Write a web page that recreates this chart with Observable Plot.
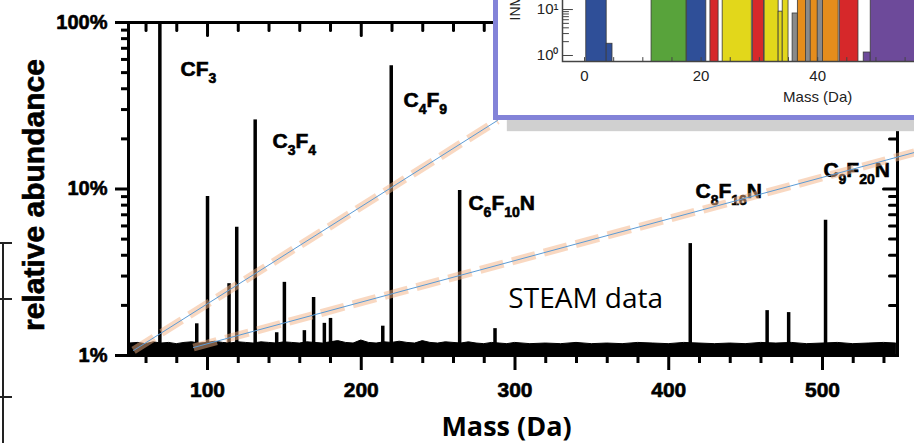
<!DOCTYPE html>
<html>
<head>
<meta charset="utf-8">
<script src="https://cdn.jsdelivr.net/npm/d3@7"></script>
<script src="https://cdn.jsdelivr.net/npm/@observablehq/plot@0.6"></script>
<style>
html, body { margin: 0; padding: 0; background: #fff; overflow: hidden; }
#stage { position: relative; width: 914px; height: 443px; overflow: hidden; background: #fff; }
#stage > svg.main { position: absolute; left: 0; top: 0; }
.tbl { position: absolute; background: #222; }
#inset { position: absolute; left: 493px; top: -10px; width: 440px; height: 120px;
  border: 5px solid #8383d8; background: #fff; box-shadow: 14px 11px 1px #d0d0d0; }
#inset > svg { position: absolute; left: 0; top: 0; }
svg.main g[aria-label$="tick label"] text,
svg.main text.heavy { paint-order: stroke; stroke: #000; stroke-width: 0.6px; }
</style>
</head>
<body>
<div id="stage">
  <div class="tbl" style="left:2px;top:242px;width:2px;height:201px"></div>
  <div class="tbl" style="left:0;top:242px;width:12px;height:2px"></div>
  <div class="tbl" style="left:0;top:298px;width:12px;height:2px"></div>
  <div class="tbl" style="left:0;top:396px;width:12px;height:2px"></div>
</div>
<script>
// ---------- main spectrum data ----------
const peakMass = [69, 93, 100, 114, 119, 131, 145, 150, 163, 169, 176, 180, 214, 219.5, 264, 287, 414, 464, 478, 502];
const peakPct  = [100, 1.55, 9.0, 2.7, 5.9, 26, 1.37, 2.75, 1.41, 2.23, 1.56, 1.67, 1.5, 55, 9.8, 1.45, 4.7, 1.86, 1.81, 6.5];

const noiseMass = [49,55,60,65,70,75,80,85,90,95,100,105,110,115,120,125,130,135,140,145,150,155,160,165,170,175,180,185,190,195,200,205,210,215,220,225,230,235,240,245,250,255,260,265,270,275,280,285,290,295,300,310,320,330,340,350,360,370,380,390,400,410,420,430,440,450,460,470,480,490,500,510,520,530,540,548];
const noisePct  = [1.18,1.19,1.17,1.2,1.18,1.19,1.17,1.19,1.2,1.18,1.19,1.21,1.19,1.18,1.2,1.19,1.18,1.2,1.19,1.18,1.2,1.19,1.18,1.2,1.19,1.18,1.2,1.22,1.19,1.18,1.23,1.19,1.18,1.2,1.19,1.21,1.19,1.18,1.22,1.19,1.18,1.2,1.19,1.18,1.2,1.18,1.17,1.19,1.18,1.17,1.19,1.17,1.18,1.17,1.19,1.17,1.18,1.17,1.19,1.18,1.17,1.19,1.18,1.17,1.18,1.17,1.19,1.18,1.19,1.17,1.18,1.19,1.17,1.18,1.19,1.18];

const labelNames = ["CF3", "C3F4", "C4F9", "C6F10N", "C8F16N", "C9F20N"];
const labelMass  = [82.4, 142.3, 227.5, 269.7, 417.4, 500.6];
const labelPct   = [47.4, 17.75, 30.9, 7.43, 8.77, 11.73];

const xMajorTicks = [100, 200, 300, 400, 500];
const xMinorTicks = [60, 80, 120, 140, 160, 180, 220, 240, 260, 280, 320, 340, 360, 380, 420, 440, 460, 480, 520, 540];
const yMajorTicks = [1, 10, 100];
const yMinorTicks = [2, 3, 4, 5, 6, 7, 8, 9, 20, 30, 40, 50, 60, 70, 80, 90];

// zoom guide lines (main chart data coordinates)
const guideId   = ["a", "a", "b", "b"];
const guideMass = [51.9, 288.6, 90.9, 559.8];
const guidePct  = [1.072, 25.8, 1.117, 16.57];

const steamText = "STEAM data";
const steamMass = 346;
const steamPct = 2.17;

// ---------- inset histogram data ----------
const binStart = [0.3, 3.8, 11.5, 17.6, 21.6, 23.7, 28.9, 30.9, 33.3, 34.0, 35.7, 36.6, 38.0, 40.0, 43.8, 47.9, 49.1];
const binEnd   = [3.8, 4.8, 17.5, 20.9, 23.0, 28.7, 30.8, 33.3, 34.0, 35.0, 36.6, 43.6, 38.8, 40.9, 47.0, 49.1, 58];
const binCount = [100, 1.8, 100, 100, 100, 100, 100, 100, 9.0, 100, 8.2, 100, 100, 100, 100, 1.16, 100];
const binGroup = ["g1","g1","g2","g1","g3","g4","g3","g4","g4","g4","g6","g5","g6","g6","g3","g7","g7"];
const groupNames  = ["g1", "g2", "g3", "g4", "g5", "g6", "g7"];
const groupColors = ["#2f4f98", "#58a33b", "#d6282a", "#e2d71b", "#e58d1c", "#8a8a8a", "#6d4a9a"];
const insetXLabels = [0, 20, 40];
const insetXTicks = [0, 5, 10, 15, 20, 25, 30, 35, 40, 45, 50, 55];
const insetYMajor = [1, 10];
const insetYMinor = [2, 3, 4, 5, 6, 7, 8, 9, 20];

// ---------- build ----------
const peaks = peakMass.map((m, i) => ({mass: m, pct: peakPct[i]}));
const noise = noiseMass.map((m, i) => ({mass: m, pct: noisePct[i]}));
const labels = labelNames.map((n, i) => ({name: n, mass: labelMass[i], pct: labelPct[i]}));
const guides = guideId.map((id, i) => ({id, mass: guideMass[i], pct: guidePct[i]}));
const bins = binStart.map((s, i) => ({x1: s, x2: binEnd[i], count: binCount[i], group: binGroup[i]}));

const tickShape = {draw(context, l) { context.moveTo(0, 0); context.lineTo(0, -l); }};
function ticksAt(values, channel, frameAnchor, rotate, length, stroke, strokeWidth) {
  return Plot.vector(values, {[channel]: d => d, frameAnchor, rotate, length, anchor: "start",
    shape: tickShape, stroke, strokeWidth});
}

const font = "'Liberation Sans', Arial, Helvetica, sans-serif";

const main = Plot.plot({
  width: 914, height: 443,
  marginLeft: 128, marginRight: 17, marginTop: 22, marginBottom: 88,
  style: {fontFamily: font, background: "transparent", overflow: "visible"},
  x: {domain: [48.6, 548.8]},
  y: {type: "log", domain: [1, 100]},
  marks: [
    Plot.areaY(noise, {x: "mass", y1: 0.98, y2: "pct", fill: "black", stroke: "black", strokeWidth: 1}),
    Plot.ruleX(peaks, {x: "mass", y1: 1, y2: "pct", stroke: "black", strokeWidth: 3.5}),
    Plot.frame({stroke: "black", strokeWidth: 3}),
    Plot.axisX({ticks: xMajorTicks, tickSize: 15, tickPadding: 12, strokeWidth: 3, fontSize: 21, fontWeight: "bold", label: null}),
    Plot.axisX({ticks: xMinorTicks, tickSize: 8, tickFormat: () => "", strokeWidth: 3, label: null}),
    Plot.axisY({ticks: yMajorTicks, tickSize: 13, tickPadding: 8, strokeWidth: 3, tickFormat: d => d + "%", fontSize: 20, fontWeight: "bold", label: null}),
    Plot.axisY({ticks: yMinorTicks, tickSize: 7, tickFormat: () => "", strokeWidth: 3, label: null}),
    ticksAt(xMajorTicks, "x", "top", 180, 13, "black", 3),
    ticksAt(xMinorTicks, "x", "top", 180, 8, "black", 3),
    ticksAt(yMajorTicks, "y", "right", -90, 14, "black", 3),
    ticksAt(yMinorTicks, "y", "right", -90, 8, "black", 3),
    Plot.text(labels, {x: "mass", y: "pct", text: "name", textAnchor: "start", lineAnchor: "bottom",
      fontSize: 21, fontWeight: "bold", fill: "black", className: "peak-label"}),
    Plot.text([steamText], {x: steamMass, y: steamPct, text: d => d, fontFamily: "'Open Sans', sans-serif",
      fontSize: 28, fill: "black"}),
    Plot.text(["relative abundance"], {frameAnchor: "left", text: d => d, rotate: -90, dx: -94, dy: 6,
      textAnchor: "middle", lineAnchor: "middle",
      fontSize: 30, fontWeight: "bold", fill: "black", className: "axis-title"}),
    Plot.text(["Mass (Da)"], {frameAnchor: "bottom", text: d => d, dx: -6.5, dy: 72,
      textAnchor: "middle", lineAnchor: "middle",
      fontFamily: "'Open Sans', sans-serif", fontSize: 27, fontWeight: "bold", fill: "black"}),
    Plot.line(guides, {x: "mass", y: "pct", z: "id", stroke: "#f4b183", strokeOpacity: 0.5, strokeWidth: 8, strokeDasharray: "24,9", strokeLinecap: "butt"}),
    Plot.line(guides, {x: "mass", y: "pct", z: "id", stroke: "#5b9bd5", strokeWidth: 1})
  ]
});
main.classList.add("main");

// subscripts in chemical formulas; heavier strokes for bold labels
function heavy(sel) { main.querySelectorAll(sel).forEach(t => t.classList.add("heavy")); }
heavy(".peak-label text, g.peak-label text");
heavy(".axis-title text, g.axis-title text");
main.querySelectorAll(".peak-label text").forEach(t => {
  const s = t.textContent;
  t.textContent = "";
  let shifted = false;
  s.split(/(\d+)/).filter(Boolean).forEach(part => {
    const ts = document.createElementNS("http://www.w3.org/2000/svg", "tspan");
    if (/^\d+$/.test(part)) {
      ts.setAttribute("font-size", "14");
      if (!shifted) { ts.setAttribute("dy", "7"); shifted = true; }
    } else if (shifted) {
      ts.setAttribute("dy", "-7"); shifted = false;
    }
    ts.textContent = part;
    t.appendChild(ts);
  });
});

const inset = Plot.plot({
  width: 420, height: 120,
  marginLeft: 64, marginRight: 0, marginTop: 0, marginBottom: 54,
  style: {fontFamily: font, background: "transparent", color: "#222"},
  x: {domain: [-3.78, 57.3]},
  y: {type: "log", domain: [0.74, 20.2]},
  color: {type: "ordinal", domain: groupNames, range: groupColors},
  marks: [
    Plot.rectY(bins, {x1: "x1", x2: "x2", y1: 0.5, y2: "count", fill: "group", stroke: "#3a3a3a", strokeWidth: 0.8, clip: true}),
    Plot.frame({stroke: "#444", strokeWidth: 1.5}),
    Plot.axisY({ticks: insetYMajor, tickSize: 0, tickPadding: 4, tickFormat: d => d === 1 ? "10⁰" : "10¹", fontSize: 15, label: null}),
    Plot.axisX({ticks: insetXLabels, tickSize: 0, tickPadding: 9, fontSize: 15, label: null}),
    ticksAt(insetYMajor, "y", "left", 90, 10, "#444", 1),
    ticksAt(insetYMinor, "y", "left", 90, 6, "#444", 1),
    ticksAt(insetXTicks, "x", "bottom", 0, 4, "#444", 1),
    Plot.text(["Mass (Da)"], {x: 40, frameAnchor: "bottom", text: d => d, dy: 36, lineAnchor: "middle", textAnchor: "middle", fontSize: 15, fill: "#222"}),
    Plot.text(["INMS counts"], {frameAnchor: "left", text: d => d, rotate: -90, textAnchor: "start", lineAnchor: "middle", dx: -47, dy: -8, fontSize: 14, fill: "#222"})
  ]
});

const stage = document.getElementById("stage");
stage.insertBefore(main, stage.firstChild);
const box = document.createElement("div");
box.id = "inset";
box.appendChild(inset);
stage.appendChild(box);
</script>
</body>
</html>
